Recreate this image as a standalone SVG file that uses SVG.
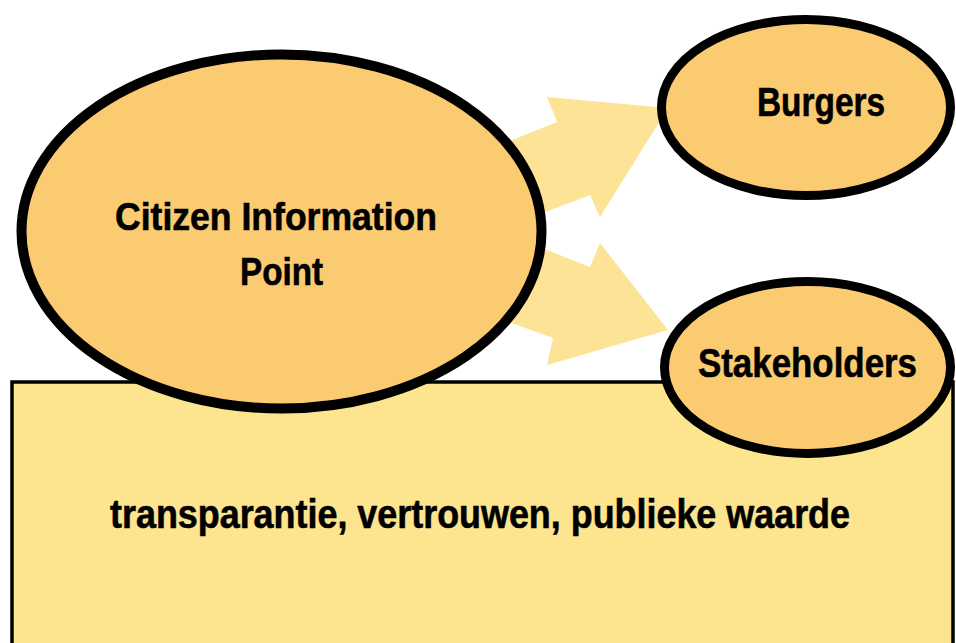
<svg xmlns="http://www.w3.org/2000/svg" width="956" height="643" viewBox="0 0 956 643">
  <defs>
    <style>
      .arrow { fill: #FDE396; }
      .node { fill: #FBCB72; stroke: #000; stroke-width: 10; }
      .small { stroke-width: 9; }
      .base { fill: #FDE48F; stroke: #000; stroke-width: 3.5; }
      .label { font-family: "Liberation Sans", Arial, sans-serif; font-weight: bold; fill: #000; stroke: #000; stroke-width: 0.6; }
    </style>
  </defs>
  <rect width="956" height="643" fill="#fff"/>

  <!-- broad arrows from the central point to the audiences -->
  <g id="connectors">
    <polygon class="arrow" points="480,153 557,122 547,97 668,108 600,217 590,195 543,213 480,237"/>
    <polygon class="arrow" points="480,223 547,250 590,267 600,243 668,330 547,365 553,338 517,325 480,312"/>
  </g>

  <!-- base block with the shared values -->
  <g id="values">
    <rect class="base" x="12" y="382" width="941" height="280"/>
    <text class="label" x="110" y="528" font-size="40" textLength="740" lengthAdjust="spacingAndGlyphs">transparantie, vertrouwen, publieke waarde</text>
  </g>

  <g id="cip">
    <ellipse class="node" cx="281.5" cy="231.5" rx="260" ry="177"/>
    <text class="label" x="115" y="230" font-size="39" textLength="322" lengthAdjust="spacingAndGlyphs">Citizen Information</text>
    <text class="label" x="240" y="285" font-size="39" textLength="83" lengthAdjust="spacingAndGlyphs">Point</text>
  </g>

  <g id="burgers">
    <ellipse class="node small" cx="806" cy="107.5" rx="144.5" ry="88"/>
    <text class="label" x="757" y="116" font-size="41" textLength="128" lengthAdjust="spacingAndGlyphs">Burgers</text>
  </g>

  <g id="stakeholders">
    <ellipse class="node small" cx="807.5" cy="367.5" rx="143" ry="86"/>
    <text class="label" x="698" y="377" font-size="41" textLength="219" lengthAdjust="spacingAndGlyphs">Stakeholders</text>
  </g>
</svg>
